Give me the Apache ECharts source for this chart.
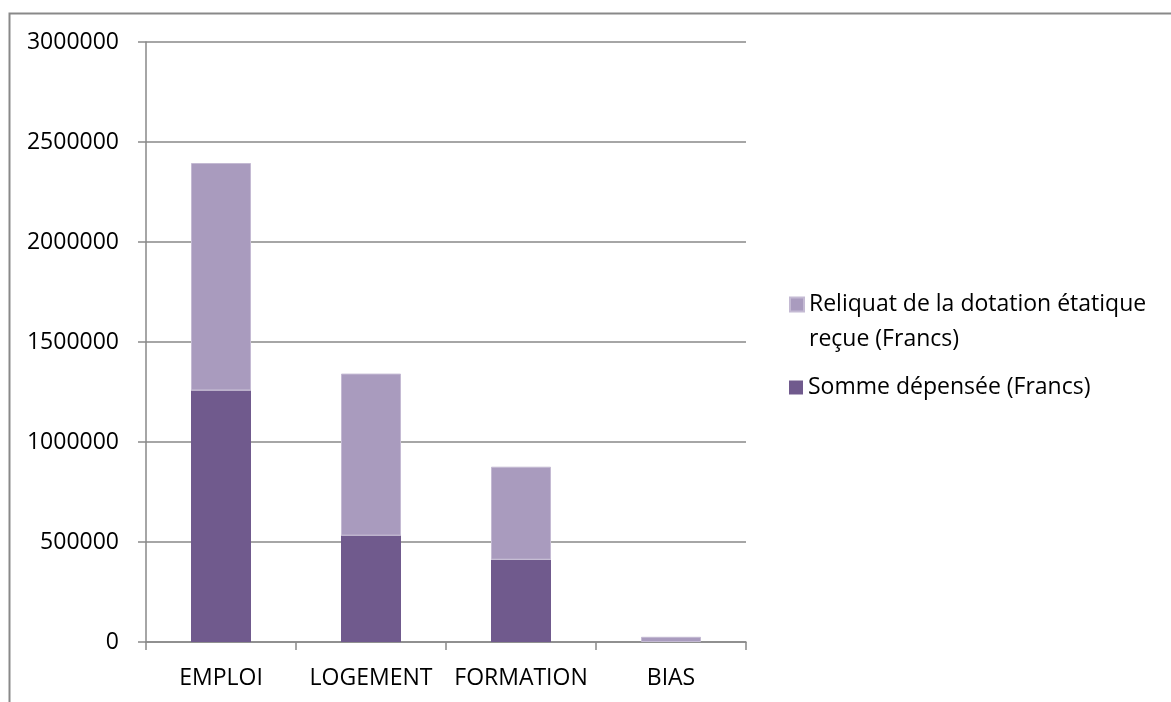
<!DOCTYPE html>
<html>
<head>
<meta charset="utf-8">
<script src="https://cdn.jsdelivr.net/npm/echarts@6/dist/echarts.min.js"></script>
<style>
    html, body { margin: 0; padding: 0; background: #fff; }
    #chart { width: 1171px; height: 702px; }
</style>
</head>
<body>
<div id="chart"></div>
<script>
var categories = ['EMPLOI', 'LOGEMENT', 'FORMATION', 'BIAS'];
var sommeDepensee = [1258000, 532000, 411500, 0];
var reliquat = [1137000, 810000, 465000, 26000];
var yTicks = [0, 500000, 1000000, 1500000, 2000000, 2500000, 3000000];

var nomReliquat = 'Reliquat de la dotation étatique reçue (Francs)';
var nomSomme = 'Somme dépensée (Francs)';

var font = 'Open Sans';
var grey = '#898989';

var chart = echarts.init(document.getElementById('chart'));
chart.setOption({
    animation: false,
    textStyle: { fontFamily: font },
    // cadre gris autour du graphique
    graphic: [{
        type: 'rect',
        left: 7, top: 11,
        shape: { width: 1300, height: 900 },
        style: { fill: 'none', stroke: grey, lineWidth: 2 },
        silent: true
    }],
    grid: { left: 146, right: 425, top: 42, bottom: 60 },
    legend: [{
        data: [nomReliquat],
        orient: 'vertical',
        left: 789, top: 252,
        padding: 0,
        itemWidth: 14, itemHeight: 14,
        icon: 'rect',
        // ligne vide en tete pour que l'icone soit en face de la 1re ligne
        formatter: function () { return ' \nReliquat de la dotation étatique\nreçue (Francs)'; },
        textStyle: { fontFamily: font, fontSize: 23, color: '#000', lineHeight: 35 }
    }, {
        data: [nomSomme],
        orient: 'vertical',
        left: 789, top: 370,
        padding: 0,
        itemWidth: 14, itemHeight: 14,
        icon: 'rect',
        textStyle: { fontFamily: font, fontSize: 23, color: '#000', lineHeight: 35 }
    }],
    xAxis: {
        type: 'category',
        data: categories,
        axisLine: { lineStyle: { color: grey, width: 1.5 } },
        axisTick: { show: true, length: 8, lineStyle: { color: grey, width: 1.5 } },
        axisLabel: { color: '#000', fontSize: 23, margin: 25, interval: 0, fontFamily: font }
    },
    yAxis: {
        type: 'value',
        min: yTicks[0],
        max: yTicks[yTicks.length - 1],
        interval: yTicks[1] - yTicks[0],
        axisLine: { show: true, lineStyle: { color: grey, width: 1.5 } },
        axisTick: { show: true, length: 8, lineStyle: { color: grey, width: 1.5 } },
        axisLabel: {
            color: '#000', fontSize: 23, margin: 27, fontFamily: font,
            formatter: function (v) { return String(v); }
        },
        splitLine: { lineStyle: { color: grey, width: 1.5 } }
    },
    series: [{
        name: nomSomme,
        type: 'bar',
        stack: 'total',
        barWidth: 60,
        itemStyle: { color: '#705A8D' },
        data: sommeDepensee
    }, {
        name: nomReliquat,
        type: 'bar',
        stack: 'total',
        barWidth: 60,
        itemStyle: { color: '#A99BBE', borderColor: '#C4BAD3', borderWidth: 1 },
        data: reliquat
    }]
});
</script>
</body>
</html>
